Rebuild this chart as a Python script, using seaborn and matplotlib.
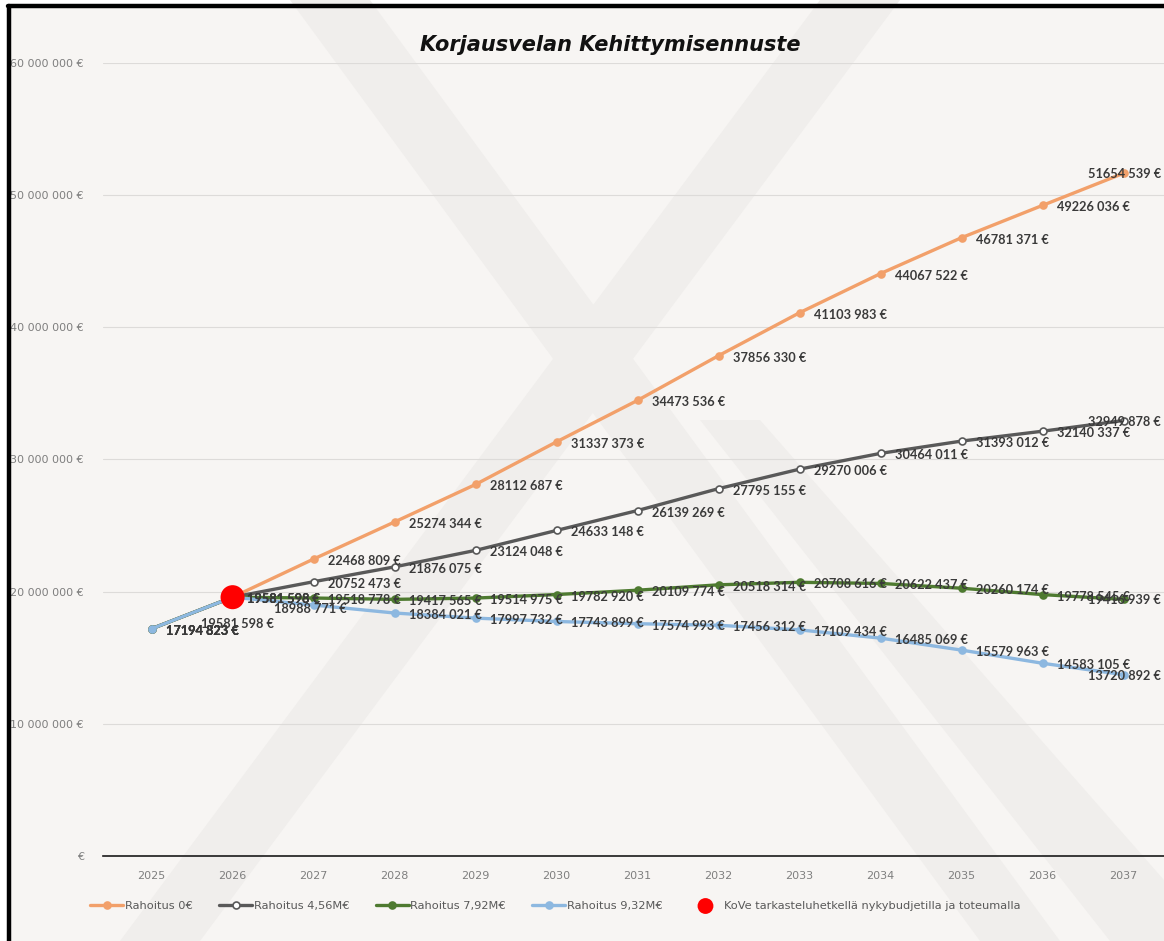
import numpy as np
import pandas as pd
import matplotlib
matplotlib.use("Agg")
import matplotlib.pyplot as plt
from matplotlib.patches import Polygon
from matplotlib.lines import Line2D
import seaborn as sns

# -----------------------------
# Data
# -----------------------------
years = ["2025", "2026", "2027", "2028", "2029", "2030", "2031",
         "2032", "2033", "2034", "2035", "2036", "2037"]

rahoitus_0 = [17194823, 19581598, 22468809, 25274344, 28112687, 31337373, 34473536,
              37856330, 41103983, 44067522, 46781371, 49226036, 51654539]
rahoitus_456 = [17194823, 19581598, 20752473, 21876075, 23124048, 24633148, 26139269,
                27795155, 29270006, 30464011, 31393012, 32140337, 32949878]
rahoitus_792 = [17194823, 19581598, 19518778, 19417565, 19514975, 19782920, 20109774,
                20518314, 20708616, 20622437, 20260174, 19778545, 19416939]
rahoitus_932 = [17194823, 19581598, 18988771, 18384021, 17997732, 17743899, 17574993,
                17456312, 17109434, 16485069, 15579963, 14583105, 13720892]

series_names = ["Rahoitus 0€", "Rahoitus 4,56M€", "Rahoitus 7,92M€", "Rahoitus 9,32M€"]
series_values = [rahoitus_0, rahoitus_456, rahoitus_792, rahoitus_932]

kove_year = "2026"
kove_value = 19581598
kove_label = "KoVe tarkasteluhetkellä nykybudjetilla ja toteumalla"

title = "Korjausvelan Kehittymisennuste"
y_ticks = [0, 10000000, 20000000, 30000000, 40000000, 50000000, 60000000]

# -----------------------------
# Style
# -----------------------------
colors = ["#F2A06A", "#595959", "#4E7A30", "#8DB8E0"]
face_colors = ["#F2A06A", "#FFFFFF", "#4E7A30", "#8DB8E0"]
bg = "#F7F5F3"
label_color = "#3A3A3A"
tick_color = "#7F7F7F"

sns.set_theme(style="white")
plt.rcParams["font.family"] = ["DejaVu Sans"]


def fmt_label(v):
    return f"{v // 1000} {v % 1000:03d} €"


def fmt_tick(v):
    if v == 0:
        return "€"
    return f"{v:,.0f} €".replace(",", " ")


df = pd.DataFrame({
    "x": np.tile(np.arange(len(years)), len(series_names)),
    "value": np.concatenate(series_values),
    "series": np.repeat(series_names, len(years)),
})

fig = plt.figure(figsize=(11.64, 9.41), dpi=100)
fig.patch.set_facecolor("white")

# chart background inside the black frame
fig.patches.append(plt.Rectangle((10 / 1164, 0), 1, 1 - 7 / 941,
                                 transform=fig.transFigure, facecolor=bg,
                                 edgecolor="none", zorder=-10))

# faint watermark bands
wm = "#F0EEEC"
bands = [
    [(290, 0), (370, 0), (1060, 941), (980, 941)],
    [(820, 0), (900, 0), (200, 941), (120, 941)],
    [(700, 420), (760, 420), (1164, 880), (1164, 941), (1110, 941)],
]
for b in bands:
    pts = [(x / 1164, 1 - y / 941) for x, y in b]
    fig.patches.append(Polygon(pts, closed=True, transform=fig.transFigure,
                               facecolor=wm, edgecolor="none", zorder=-9))

ax = fig.add_axes([103 / 1164, 85 / 941, 1 - 103 / 1164, (856 - 63) / 941])
ax.set_facecolor("none")

for i, name in enumerate(series_names):
    sub = df[df["series"] == name]
    sns.lineplot(data=sub, x="x", y="value", ax=ax, color=colors[i],
                 linewidth=2.4, marker="o", markersize=5,
                 markerfacecolor=face_colors[i], markeredgecolor=colors[i],
                 markeredgewidth=1.2, label=name, zorder=3 + i)

ax.scatter([years.index(kove_year)], [kove_value], s=300, color="#FF0000",
           zorder=10, label=kove_label, edgecolors="none")

# data labels (right of the points, last ones pushed inside)
overrides = {(3, 1): (-32, -27), (3, 2): (-40, -4)}
for i, vals in enumerate(series_values):
    for j, v in enumerate(vals):
        dx, dy = 14, -2
        if j == len(years) - 1:
            dx, dy = -36, -1
        if (i, j) in overrides:
            dx, dy = overrides[(i, j)]
        ax.annotate(fmt_label(v), (j, v), xytext=(dx, dy), textcoords="offset pixels",
                    ha="left", va="center", fontsize=9.2, fontweight="bold",
                    color=label_color, family="Lato", zorder=20, annotation_clip=False)

ax.set_xlim(-0.6, 12.5)
ax.set_ylim(0, 60000000)
ax.set_xticks(range(len(years)))
ax.set_xticklabels(years)
ax.set_yticks(y_ticks)
ax.set_yticklabels([fmt_tick(t) for t in y_ticks])
ax.tick_params(axis="both", length=0, colors=tick_color, labelsize=8)
ax.tick_params(axis="y", pad=14)
ax.tick_params(axis="x", pad=11, labelsize=8)
ax.set_xlabel("")
ax.set_ylabel("")
ax.grid(axis="y", color="#DDDBD9", linewidth=0.8)
ax.grid(axis="x", visible=False)
ax.set_axisbelow(True)
for s in ["top", "right", "left"]:
    ax.spines[s].set_visible(False)
ax.spines["bottom"].set_color("#1A1A1A")
ax.spines["bottom"].set_linewidth(1.2)
ax.spines["bottom"].set_zorder(2)

ax.get_legend().remove()
handles, labels = ax.get_legend_handles_labels()
leg = fig.legend(handles, labels, loc="center left", bbox_to_anchor=(80 / 1164, 1 - 906 / 941),
                 ncol=5, frameon=False, fontsize=8.2, handlelength=2.9,
                 columnspacing=2.3, handletextpad=0.15, labelcolor="#595959")
leg.legend_handles[4].set_sizes([130])

fig.text(610 / 1164, 1 - 45 / 941, title, ha="center", va="center",
         fontsize=15, fontweight="bold", fontstyle="italic", color="#111111")

# black frame on top and left
fig.add_artist(Line2D([9 / 1164, 9 / 1164], [0, 1 - 6 / 941], transform=fig.transFigure,
                      color="black", linewidth=3.2))
fig.add_artist(Line2D([8 / 1164, 1], [1 - 6 / 941, 1 - 6 / 941], transform=fig.transFigure,
                      color="black", linewidth=3.2))

fig.savefig("out.png", dpi=100)
